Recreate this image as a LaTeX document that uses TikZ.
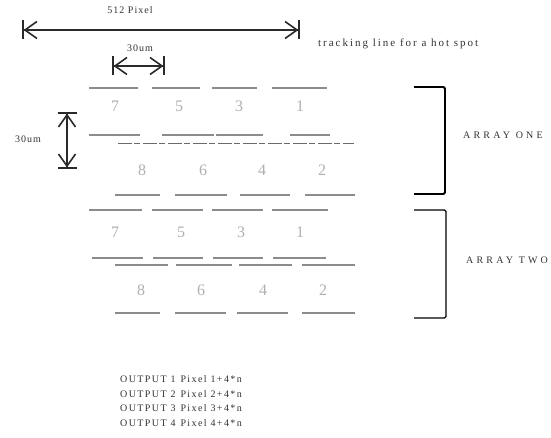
\documentclass[tikz,border=0pt]{standalone}
\usepackage{fontspec}
\setmainfont{Liberation Serif}
\usetikzlibrary{arrows.meta}
\definecolor{ink}{HTML}{2A2A2A}
\definecolor{txt}{HTML}{333333}
\definecolor{seg}{HTML}{8C8C8C}
\definecolor{num}{HTML}{B0B0B0}
\tikzset{
  lbl/.style={inner sep=0pt, text=txt, font=\fontsize{10}{11}\selectfont\addfontfeatures{LetterSpace=10}},
  trk/.style={inner sep=0pt, text=txt, font=\fontsize{11}{12}\selectfont\addfontfeatures{LetterSpace=18}},
  outl/.style={inner sep=0pt, text=txt, font=\fontsize{10}{11}\selectfont\addfontfeatures{LetterSpace=14}},
  arr/.style={inner sep=0pt, text=txt, font=\fontsize{10}{11}\selectfont\addfontfeatures{LetterSpace=32}},
  numb/.style={inner sep=0pt, text=num, font=\fontsize{16}{16}\selectfont},
  tipb/.style={Straight Barb[length=12pt,width=17pt,sep=0pt,line width=1.6pt]},
  dimline/.style={draw=ink, line width=1.6pt,
    {Bar[width=19pt,line width=1.6pt]Straight Barb[length=12pt,width=17pt,sep=0pt,line width=1.6pt]}-{Straight Barb[length=12pt,width=17pt,sep=0pt,line width=1.6pt]Bar[width=19pt,line width=1.6pt]}},
  segline/.style={draw=seg, line width=1.1pt},
  brack/.style={draw=black, line width=1.8pt, rounded corners=1.5pt}
}
\begin{document}
\begin{tikzpicture}[x=1pt,y=-1pt]
\useasboundingbox[fill=white] (0,0) rectangle (551,438);

% top dimension
\node[lbl] (t512) at (130,10) {512 Pixel};
\coordinate (aL) at (22,30);
\coordinate (aR) at (300,30);
\draw[dimline] (aL) -- (aR);
\node[trk, anchor=west] (track) at (318,44) {tracking line for a hot spot};

% small horizontal dimension
\node[lbl] (t30a) at (140,48) {30um};
\coordinate (bL) at (112,66);
\coordinate (bR) at (165,66);
\draw[dimline] (bL) -- (bR);

% vertical dimension
\node[lbl] (t30b) at (28,139) {30um};
\coordinate (cT) at (67,112);
\coordinate (cB) at (67,169);
\draw[dimline] (cT) -- (cB);

% array line segments
\foreach \y/\segs in {
  88/{89/138,152/200,212/257,272/327},
  135/{89/140,162/214,216/263,290/330},
  195/{115/160,175/227,240/290,305/355},
  210/{89/142,152/203,212/263,272/328},
  258/{92/143,153/203,213/263,273/326},
  265/{115/168,176/232,239/292,302/355},
  313/{115/160,175/226,237/288,302/355}}{
  \foreach \a/\b in \segs { \draw[segline] (\a,\y) -- (\b,\y); }
}
\draw[draw=ink!70, line width=0.9pt, dash pattern=on 14pt off 2pt on 6pt off 3pt] (118,143) -- (354,143);

% array one numbers
\node[numb] (n11) at (115,106) {7};
\node[numb] (n12) at (179,106) {5};
\node[numb] (n13) at (239,106) {3};
\node[numb] (n14) at (300,106) {1};
\node[numb] (n21) at (142,170) {8};
\node[numb] (n22) at (203,170) {6};
\node[numb] (n23) at (262,170) {4};
\node[numb] (n24) at (322,170) {2};
% array two numbers
\node[numb] (m11) at (115,232) {7};
\node[numb] (m12) at (181,232) {5};
\node[numb] (m13) at (241,232) {3};
\node[numb] (m14) at (300,232) {1};
\node[numb] (m21) at (141,290) {8};
\node[numb] (m22) at (201,290) {6};
\node[numb] (m23) at (263,290) {4};
\node[numb] (m24) at (323,290) {2};

% brackets
\coordinate (p1) at (414,87);
\coordinate (p2) at (445,87);
\coordinate (p3) at (445,194);
\coordinate (p4) at (414,194);
\draw[brack] (p1) -- (p2) -- (p3) -- (p4);
\node[arr, anchor=west] (one) at (463,135) {ARRAY ONE};
\coordinate (q1) at (414,210);
\coordinate (q2) at (446,210);
\coordinate (q3) at (446,318);
\coordinate (q4) at (414,318);
\draw[brack, line width=1.4pt] (q1) -- (q2) -- (q3) -- (q4);
\node[arr, anchor=west] (two) at (466,260) {ARRAY TWO};

% outputs
\node[outl, anchor=west] (o1) at (120,379) {OUTPUT 1\enspace Pixel 1+4*n};
\node[outl, anchor=west] (o2) at (120,394) {OUTPUT 2\enspace Pixel 2+4*n};
\node[outl, anchor=west] (o3) at (120,408) {OUTPUT 3\enspace Pixel 3+4*n};
\node[outl, anchor=west] (o4) at (120,423) {OUTPUT 4\enspace Pixel 4+4*n};
\end{tikzpicture}
\end{document}
